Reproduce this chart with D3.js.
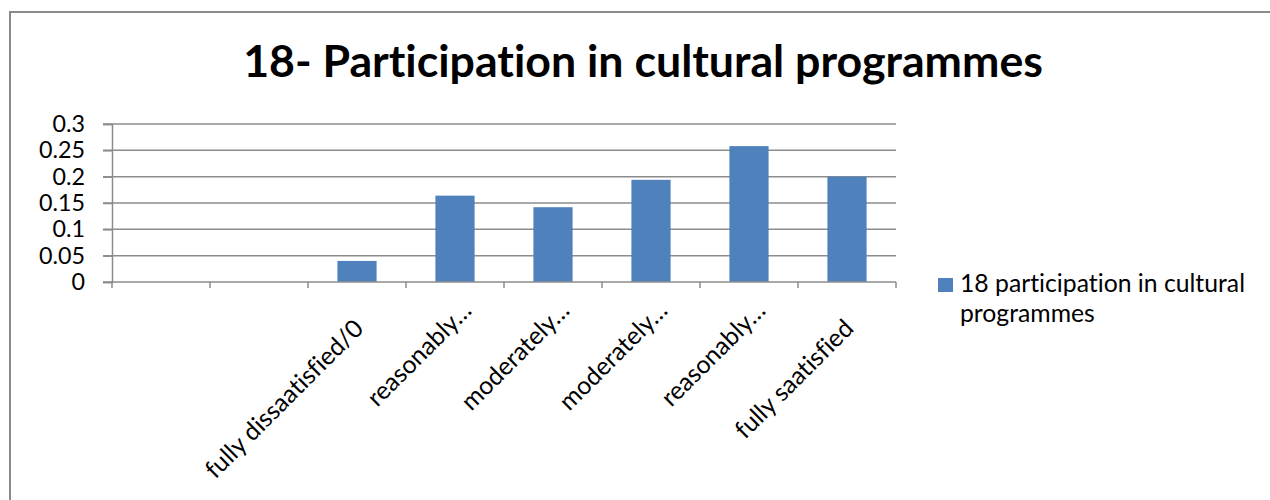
<!DOCTYPE html>
<html>
<head>
<meta charset="utf-8">
<script src="https://cdn.jsdelivr.net/npm/d3@7"></script>
<style>
  html, body { margin: 0; padding: 0; background: #fff; }
  svg { display: block; }
  text { font-variant-ligatures: none; font-feature-settings: "liga" 0, "dlig" 0; }
</style>
</head>
<body>
<svg id="chart" width="1270" height="500"></svg>
<script>
// ---- data ----
const categories = ["", "", "fully dissaatisfied/0", "reasonably…", "moderately…", "moderately…", "reasonably…", "fully saatisfied"];
const values = [null, null, 0.04, 0.164, 0.142, 0.194, 0.258, 0.2];
const yTicks = [0, 0.05, 0.1, 0.15, 0.2, 0.25, 0.3];
const yTickLabels = ["0", "0.05", "0.1", "0.15", "0.2", "0.25", "0.3"];
const titleText = "18- Participation in cultural programmes";
const seriesName = ["18 participation in cultural", "programmes"];

// ---- layout / style ----
const FONT = "Lato, 'Open Sans', sans-serif";
const BAR = "#4F81BD";
const GRID = "#8c8c8c";
const svg = d3.select("#chart");

function fit(text, weight, target, base) {
  const t = svg.append("text").attr("font-family", FONT).attr("font-weight", weight)
    .attr("font-size", base).text(text);
  const w = t.node().getComputedTextLength();
  t.remove();
  return base * target / w;
}

// outer border
svg.append("rect").attr("x", 10).attr("y", 12).attr("width", 1300).attr("height", 520)
  .attr("fill", "none").attr("stroke", "#8a8a8a").attr("stroke-width", 2);

const plot = { left: 112, right: 896, top: 124, bottom: 282 };

const x = d3.scaleBand().domain(d3.range(categories.length))
  .range([plot.left, plot.right]).paddingInner(0.6).paddingOuter(0.3);
const y = d3.scaleLinear().domain([0, 0.3]).range([plot.bottom, plot.top]);

// title
const titleSize = fit(titleText, "bold", 800, 36);
svg.append("text").attr("x", 643).attr("y", 77).attr("text-anchor", "middle")
  .attr("font-family", FONT).attr("font-weight", "bold").attr("font-size", titleSize)
  .attr("fill", "#000").text(titleText);

// gridlines
svg.append("g").selectAll("line").data(yTicks.filter(d => d > 0)).join("line")
  .attr("x1", plot.left - 9).attr("x2", plot.right)
  .attr("y1", d => y(d)).attr("y2", d => y(d))
  .attr("stroke", GRID).attr("stroke-width", 1.5);

// y axis
const tickSize = fit("0.25", "normal", 46, 20);
const yAxis = d3.axisLeft(y).tickValues(yTicks)
  .tickFormat((d, i) => yTickLabels[i]).tickSize(9).tickPadding(18);
const gy = svg.append("g").attr("transform", `translate(${plot.left},0)`).call(yAxis);
gy.select(".domain").attr("stroke", GRID).attr("stroke-width", 1.5);
gy.selectAll(".tick line").attr("stroke", GRID).attr("stroke-width", 1.5);
gy.selectAll(".tick text").attr("font-family", FONT).attr("font-size", tickSize).attr("fill", "#000");

// bars
svg.append("g").selectAll("rect").data(values.map((v, i) => ({ i, v })).filter(d => d.v != null)).join("rect")
  .attr("x", d => x(d.i)).attr("width", x.bandwidth())
  .attr("y", d => y(d.v)).attr("height", d => y(0) - y(d.v))
  .attr("fill", BAR);

// x axis
const step = x.step();
const boundaries = d3.range(categories.length + 1);
const gx = svg.append("g");
gx.append("line").attr("x1", plot.left - 9).attr("x2", plot.right)
  .attr("y1", y(0)).attr("y2", y(0)).attr("stroke", GRID).attr("stroke-width", 1.5);
gx.selectAll(".bt").data(boundaries).join("line").attr("class", "bt")
  .attr("x1", d => plot.left + d * step).attr("x2", d => plot.left + d * step)
  .attr("y1", y(0)).attr("y2", y(0) + 6).attr("stroke", GRID).attr("stroke-width", 1.5);

const catSize = fit("fully dissaatisfied/0", "normal", 212, 20);
gx.selectAll(".cl").data(categories.map((c, i) => ({ c, i })).filter(d => d.c)).join("g").attr("class", "cl")
  .attr("transform", d => `translate(${x(d.i) + x.bandwidth() / 2},${y(0)}) rotate(-45)`)
  .append("text")
  .attr("text-anchor", "end")
  .attr("x", d => d.c.endsWith("…") ? -8.5 : -28.3)
  .attr("y", d => d.c.endsWith("…") ? 34 : 39.6)
  .attr("font-family", FONT).attr("font-size", catSize).attr("fill", "#000")
  .text(d => d.c);

// legend
const legSize = fit(seriesName[0], "normal", 285, 20);
svg.append("rect").attr("x", 938).attr("y", 278).attr("width", 15).attr("height", 14).attr("fill", BAR);
svg.append("g").selectAll("text").data(seriesName).join("text")
  .attr("x", 960).attr("y", (d, i) => 292 + i * 30)
  .attr("font-family", FONT).attr("font-size", legSize).attr("fill", "#000")
  .text(d => d);
</script>
</body>
</html>
